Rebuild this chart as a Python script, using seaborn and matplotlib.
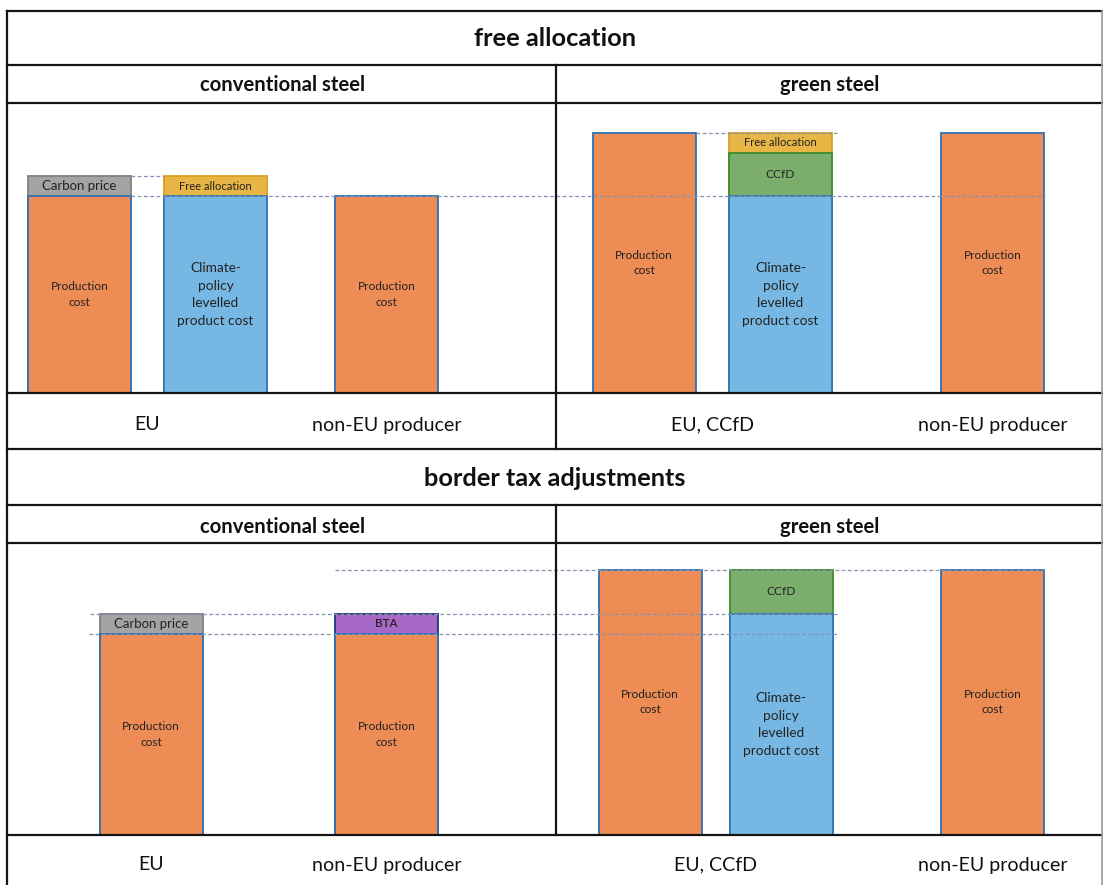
import numpy as np
import matplotlib
matplotlib.use("Agg")
import matplotlib.pyplot as plt
from matplotlib.lines import Line2D
import seaborn as sns

# ---------------- data ----------------
# free allocation
fa_groups = ["EU", "non-EU producer", "EU, CCfD", "non-EU producer"]
fa_base_kind = ["Production cost", "Climate-policy levelled product cost", "Production cost",
                "Production cost", "Climate-policy levelled product cost", "Production cost"]
fa_base = [100, 100, 100, 132, 100, 132]
fa_ccfd = [0, 0, 0, 0, 22, 0]
fa_top_kind = ["Carbon price", "Free allocation", None, None, "Free allocation", None]
fa_top = [10, 10, 0, 0, 10, 0]

# border tax adjustments
bta_groups = ["EU", "non-EU producer", "EU, CCfD", "non-EU producer"]
bta_base_kind = ["Production cost", "Production cost", "Production cost",
                 "Climate-policy levelled product cost", "Production cost"]
bta_base = [100, 100, 132, 110, 132]
bta_ccfd = [0, 0, 0, 22, 0]
bta_top_kind = ["Carbon price", "BTA", None, None, None]
bta_top = [10, 10, 0, 0, 0]

# ---------------- layout / style ----------------
W, H = 1103, 885
BAR_W = 103
fa_x = [79.5, 215.5, 386.5, 644, 780.5, 992.5]
fa_group_of = [0, 0, 1, 2, 2, 3]
bta_x = [151, 386.5, 650, 781, 992.5]
bta_group_of = [0, 1, 2, 2, 3]

STYLE = {
    "Production cost": ("#EE8C55", "#2F6FB3"),
    "Climate-policy levelled product cost": ("#76B8E3", "#2F78B8"),
    "CCfD": ("#7BAE6C", "#3C8C2C"),
    "Free allocation": ("#E7B646", "#D9A020"),
    "Carbon price": ("#A4A4A4", "#808080"),
    "BTA": ("#A868C6", "#1F3A7A"),
}
# text, font size, weight, line spacing
LABEL = {
    "Production cost": ("Production\ncost", 8.6, "normal", 1.45),
    "Climate-policy levelled product cost": ("Climate-\npolicy\nlevelled\nproduct cost", 9.8, "normal", 1.55),
    "CCfD": ("CCfD", 8.6, "normal", 1.2),
    "Free allocation": ("Free allocation", 8, "normal", 1.2),
    "Carbon price": ("Carbon price", 9.5, "normal", 1.2),
    "BTA": ("BTA", 8.5, "semibold", 1.2),
}
GUIDE = "#8193AE"

sns.set_theme(style="white")
plt.rcParams["font.family"] = ["Lato", "DejaVu Sans"]

fig = plt.figure(figsize=(W / 100, H / 100), dpi=100)
fig.patch.set_facecolor("white")


def px_axes(left, top, right, bottom):
    return fig.add_axes([left / W, 1 - bottom / H, (right - left) / W, (bottom - top) / H])


def bar_layer(ax, xs, tops, kind):
    xs = np.asarray(xs, float)
    u = np.unique(xs)
    unit = np.min(np.diff(u)) if len(u) > 1 else 1.0
    face, edge = STYLE[kind]
    sns.barplot(x=xs, y=tops, native_scale=True, orient="x", width=BAR_W / unit,
                color=face, edgecolor=edge, linewidth=1.3, saturation=1,
                errorbar=None, ax=ax, zorder=2)


def draw_section(ax, xs, base_kind, base, ccfd, top_kind, top):
    segs = []
    for i, x in enumerate(xs):
        parts = [(base_kind[i], 0.0, base[i])]
        if ccfd[i] > 0:
            parts.append(("CCfD", base[i], ccfd[i]))
        if top[i] > 0:
            parts.append((top_kind[i], base[i] + ccfd[i], top[i]))
        for lvl, (kind, b, h) in enumerate(parts):
            segs.append((lvl, kind, x, b, h))
    # stacked bars: draw full-height upper segments first, lower ones laid over them
    for lvl in sorted({s[0] for s in segs}, reverse=True):
        kinds = dict.fromkeys(s[1] for s in segs if s[0] == lvl)
        for kind in kinds:
            sel = [s for s in segs if s[0] == lvl and s[1] == kind]
            bar_layer(ax, [s[2] for s in sel], [s[3] + s[4] for s in sel], kind)
    for lvl, kind, x, b, h in segs:
        txt, fs, fw, ls = LABEL[kind]
        ax.text(x, b + h / 2, txt, ha="center", va="center", fontsize=fs,
                fontweight=fw, color="#222222", linespacing=ls, zorder=4)


def guides(ax, lines):
    for level, x0, x1 in lines:
        ax.hlines(level, x0, x1, colors=GUIDE, linestyles=(0, (3, 2)), linewidth=0.9, zorder=3)


# ---- free allocation section ----
ax1 = px_axes(7, 103, 1103, 393)
draw_section(ax1, fa_x, fa_base_kind, fa_base, fa_ccfd, fa_top_kind, fa_top)
fa_carbon_level = fa_base[0] + fa_top[0]
guides(ax1, [(fa_carbon_level, 131, 164), (fa_base[0], 131, 1045), (fa_base[3], 696, 837)])
ax1.set_xlim(7, 1103)
ax1.set_ylim(0, 147.2)
ax1.set_axis_off()

# ---- border tax adjustments section ----
ax2 = px_axes(7, 543, 1103, 835)
draw_section(ax2, bta_x, bta_base_kind, bta_base, bta_ccfd, bta_top_kind, bta_top)
bta_carbon_level = bta_base[0] + bta_top[0]
guides(ax2, [(bta_carbon_level, 90, 837), (bta_base[0], 89, 837), (bta_base[2], 335, 1043)])
ax2.set_xlim(7, 1103)
ax2.set_ylim(0, 145.3)
ax2.set_axis_off()


# ---- table frame ----
def hline(y, x0=7, x1=1103, lw=1.6, color="#151515"):
    fig.add_artist(Line2D([x0 / W, x1 / W], [1 - y / H, 1 - y / H], lw=lw, color=color,
                          solid_capstyle="projecting"))


def vline(x, y0, y1, lw=1.6, color="#151515"):
    fig.add_artist(Line2D([x / W, x / W], [1 - y0 / H, 1 - y1 / H], lw=lw, color=color,
                          solid_capstyle="projecting"))


for y in (11, 65, 103, 393, 449, 505, 543, 835):
    hline(y)
vline(7, 11, 885)
vline(556, 65, 449)
vline(556, 505, 835)
vline(1102, 11, 885, lw=1.2, color="#9a9a9a")


def ftext(x, y, s, **kw):
    fig.text(x / W, 1 - y / H, s, ha="center", va="center", color="#111111", **kw)


ftext(555, 39, "free allocation", fontsize=18.3, fontweight="bold")
ftext(283, 85, "conventional steel", fontsize=14.6, fontweight="bold")
ftext(830, 85, "green steel", fontsize=14.6, fontweight="bold")
ftext(555, 478, "border tax adjustments", fontsize=18.3, fontweight="bold")
ftext(283, 527, "conventional steel", fontsize=14.6, fontweight="bold")
ftext(830, 527, "green steel", fontsize=14.6, fontweight="bold")

for g, name in enumerate(fa_groups):
    xs = [x for x, k in zip(fa_x, fa_group_of) if k == g]
    ftext(np.mean(xs), 425, name, fontsize=14.1)
for g, name in enumerate(bta_groups):
    xs = [x for x, k in zip(bta_x, bta_group_of) if k == g]
    ftext(np.mean(xs), 865, name, fontsize=14.1)

fig.savefig("out.png", dpi=100, facecolor="white")
